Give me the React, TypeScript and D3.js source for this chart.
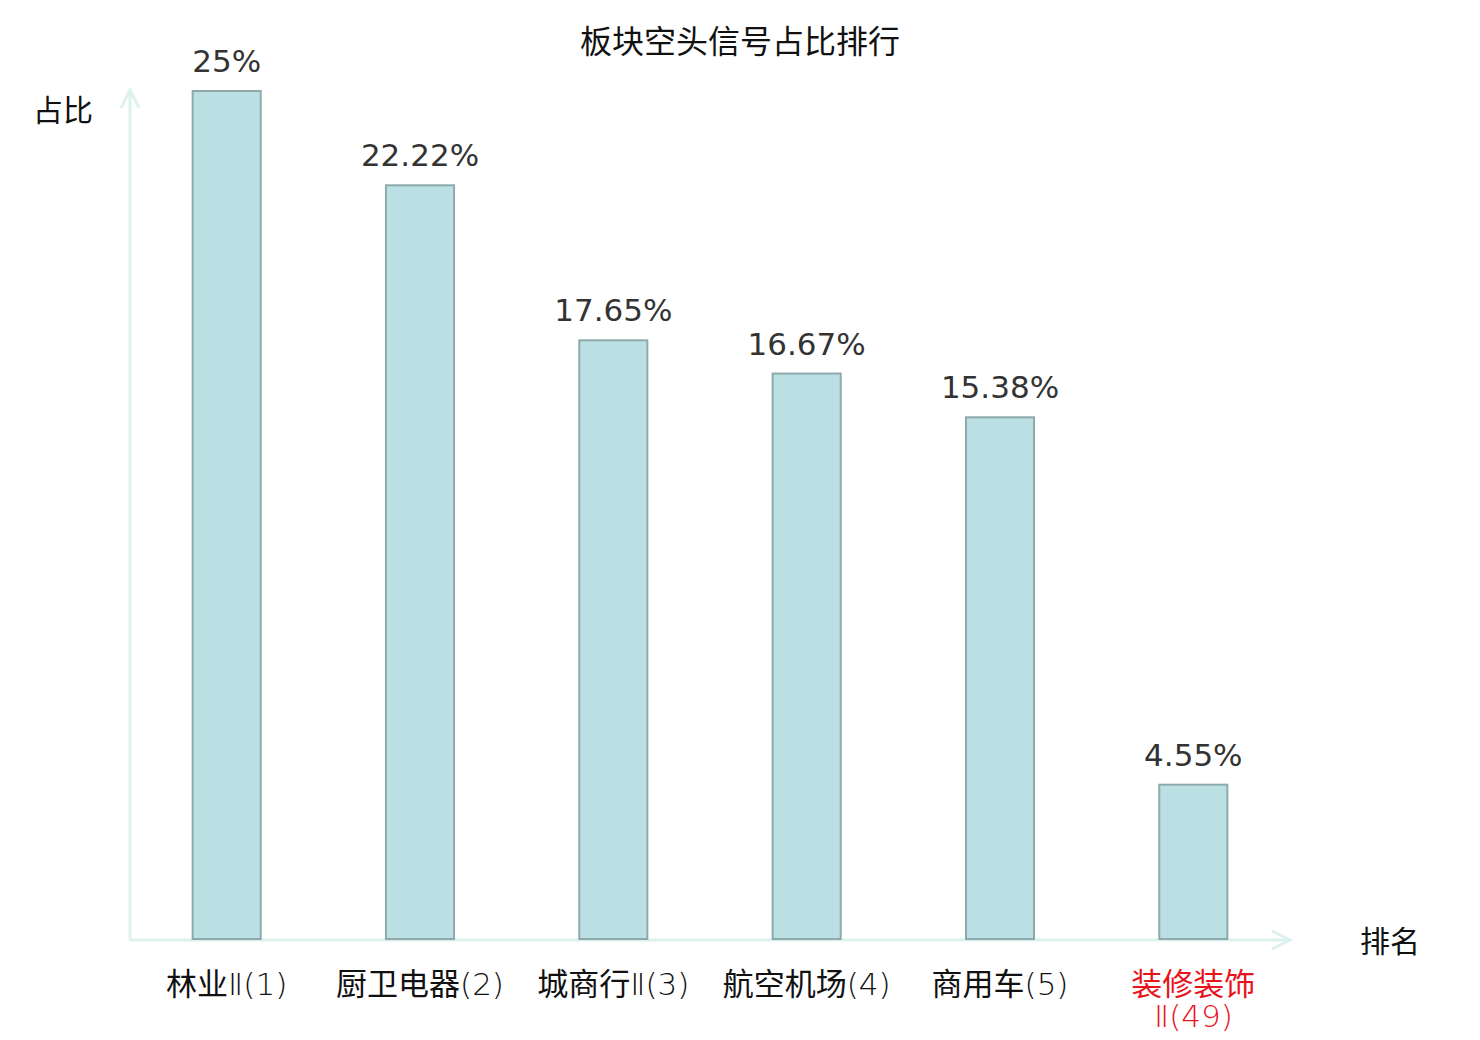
import React from "react";
import * as d3 from "d3";

const categories = ["林业Ⅱ(1)", "厨卫电器(2)", "城商行Ⅱ(3)", "航空机场(4)", "商用车(5)", "装修装饰Ⅱ(49)"];
const categoryLines = [["林业Ⅱ(1)"], ["厨卫电器(2)"], ["城商行Ⅱ(3)"], ["航空机场(4)"], ["商用车(5)"], ["装修装饰", "Ⅱ(49)"]];
const values = [25, 22.22, 17.65, 16.67, 15.38, 4.55];
const valueLabels = ["25%", "22.22%", "17.65%", "16.67%", "15.38%", "4.55%"];
const highlighted = [false, false, false, false, false, true];

const W = 1480;
const H = 1040;
const x0 = 130;
const x1 = 1290;
const yBase = 940;

const CJK = "'Noto Sans CJK SC', 'Noto Sans', sans-serif";
const NUM = "'DejaVu Sans', sans-serif";
const LATIN = "'DejaVu Sans', 'Noto Sans CJK SC', sans-serif";

function splitRuns(s: string) {
  const runs: { t: string; cjk: boolean }[] = [];
  for (const ch of s) {
    const cjk = /[\u4e00-\u9fff]/.test(ch);
    const last = runs[runs.length - 1];
    if (last && last.cjk === cjk) last.t += ch;
    else runs.push({ t: ch, cjk });
  }
  return runs;
}

export default function App() {
  const x = d3.scaleBand<string>().domain(categories).range([x0, x1]).paddingInner(0.648).paddingOuter(0.324);
  const y = d3.scaleLinear().domain([0, 25]).range([yBase - 1, 91]);
  const axisColor = "#ddf1ee";

  return (
    <svg width={W} height={H} style={{ position: "absolute", left: 0, top: 0, background: "#fff" }}>
      <text x={740} y={53} textAnchor="middle" fontFamily={CJK} fontSize={32} fill="#111">
        板块空头信号占比排行
      </text>
      {/* axes */}
      <line x1={x0} y1={yBase} x2={x0} y2={90} stroke={axisColor} strokeWidth={3} />
      <polyline points={`${x0 - 9},${108} ${x0},${90} ${x0 + 9},${108}`} fill="none" stroke={axisColor} strokeWidth={3} />
      <line x1={x0} y1={yBase} x2={x1} y2={yBase} stroke={axisColor} strokeWidth={3} />
      <polyline points={`${x1 - 18},${yBase - 9} ${x1},${yBase} ${x1 - 18},${yBase + 9}`} fill="none" stroke={axisColor} strokeWidth={3} />
      <text x={33} y={121} fontFamily={CJK} fontSize={30} fill="#111">占比</text>
      <text x={1360} y={952} fontFamily={CJK} fontSize={30} fill="#111">排名</text>

      {categories.map((c, i) => {
        const bx = x(c)!;
        const bw = x.bandwidth();
        const top = y(values[i]);
        const cx = bx + bw / 2;
        return (
          <g key={c}>
            <rect x={bx} y={top} width={bw} height={y(0) - top} fill="#bbe0e3" stroke="#8ea9aa" strokeWidth={2} />
            <text x={cx} y={top - 19} textAnchor="middle" fontFamily={NUM} fontSize={31} fill="#333">
              {valueLabels[i]}
            </text>
            {categoryLines[i].map((ln, j) => (
              <text key={j} x={cx} y={995 + j * 32} textAnchor="middle" fontSize={31}
                fill={highlighted[i] ? "#e8141c" : "#111"}>
                {splitRuns(ln).map((r, k) => (
                  <tspan key={k} fontFamily={r.cjk ? CJK : LATIN} fontWeight={r.cjk ? 400 : 200}>{r.t}</tspan>
                ))}
              </text>
            ))}
          </g>
        );
      })}
    </svg>
  );
}
